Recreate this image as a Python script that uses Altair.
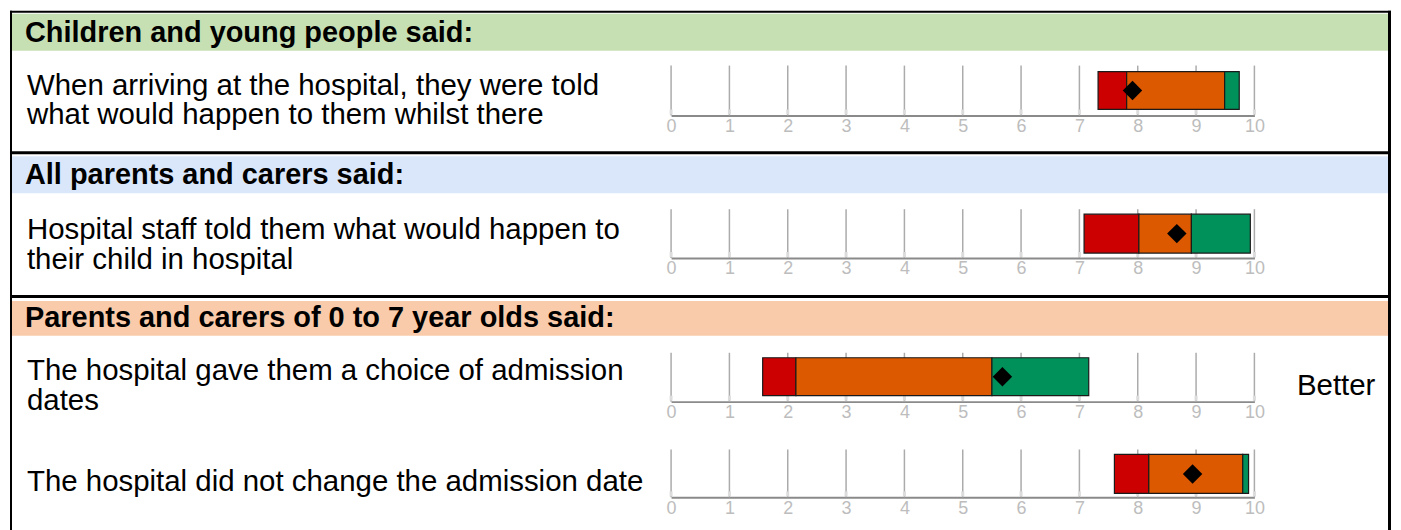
import altair as alt
import pandas as pd

# ---------------- data ----------------
headers = [
    "Children and young people said:",
    "All parents and carers said:",
    "Parents and carers of 0 to 7 year olds said:",
]
header_colors = ["#C6E0B4", "#DAE7FB", "#F9CBAA"]
questions = [
    ["When arriving at the hospital, they were told", "what would happen to them whilst there"],
    ["Hospital staff told them what would happen to", "their child in hospital"],
    ["The hospital gave them a choice of admission", "dates"],
    ["The hospital did not change the admission date"],
]
lower = [7.32, 7.08, 1.57, 7.60]
red_end = [7.81, 8.02, 2.14, 8.19]
orange_end = [9.49, 8.92, 5.50, 9.80]
upper = [9.74, 9.93, 7.16, 9.90]
score = [7.91, 8.67, 5.68, 8.94]
tick_values = list(range(0, 11))
band_names = ["Worse", "About the same", "Better"]
band_colors = ["#CC0000", "#DD5900", "#00915A"]
better_label = "Better"

FONT = "Liberation Sans"
W = 1385
X_RANGE = [663, 1248]
xscale = alt.Scale(domain=[0, 10], range=X_RANGE, zero=False, nice=False)

dummy = pd.DataFrame({"d": [0]})
ticks_df = pd.DataFrame({"t": tick_values})


def segments(i):
    bounds = [lower[i], red_end[i], orange_end[i], upper[i]]
    return pd.DataFrame({
        "start": bounds[:-1],
        "end": bounds[1:],
        "band": band_names,
    })


def panel(h, q, grid_top, bar_top, bar_bot, axis_y, label_y,
          header=None, header_color=None, header_y=(0, 0), header_text_y=0,
          top_border=False, sep=False, better=False):
    layers = []
    deco = alt.Chart(dummy)
    # gridlines (carry the axis)
    layers.append(alt.Chart(ticks_df).mark_rule(color="#ababab", strokeWidth=1.5).encode(
        x=alt.X("t:Q", scale=xscale,
                axis=alt.Axis(values=tick_values, format="d", title=None, grid=False, ticks=False,
                              domainColor="#8a8a8a", domainWidth=2, labelColor="#bdbdbd",
                              labelFont=FONT, labelFontSize=18, labelPadding=2,
                              labelFlush=False, offset=axis_y - h)),
        y=alt.value(grid_top), y2=alt.value(axis_y)))
    layers.append(alt.Chart(ticks_df).mark_rule(color="#dcdcdc", strokeWidth=3).encode(
        x=alt.X("t:Q", scale=xscale), y=alt.value(axis_y - 6), y2=alt.value(axis_y - 1)))
    if header is not None:
        layers.append(deco.mark_rect(color=header_color).encode(
            x=alt.value(2), x2=alt.value(W - 3), y=alt.value(header_y[0]), y2=alt.value(header_y[1])))
        layers.append(deco.mark_text(align="left", baseline="middle", font=FONT, fontSize=29,
                                     fontWeight="bold", color="#000000").encode(
            x=alt.value(15), y=alt.value(header_text_y), text=alt.value(header)))
    # question label (y = centre of first line)
    layers.append(deco.mark_text(align="left", baseline="middle", font=FONT, fontSize=29.5,
                                 lineHeight=30, color="#000000").encode(
        x=alt.value(17), y=alt.value(label_y), text=alt.value(questions[q])))
    # bars
    layers.append(alt.Chart(segments(q)).mark_bar(stroke="#1a1a1a", strokeWidth=1.2).encode(
        x=alt.X("start:Q", scale=xscale),
        x2="end:Q",
        y=alt.value(bar_top), y2=alt.value(bar_bot),
        color=alt.Color("band:N", scale=alt.Scale(domain=band_names, range=band_colors), legend=None),
    ))
    # score diamond
    layers.append(alt.Chart(pd.DataFrame({"s": [score[q]]})).mark_point(
        shape="diamond", filled=True, color="#000000", size=380, opacity=1).encode(
        x=alt.X("s:Q", scale=xscale), y=alt.value((bar_top + bar_bot) / 2)))
    if better:
        layers.append(deco.mark_text(align="center", baseline="middle", font=FONT, fontSize=29.5,
                                     color="#000000").encode(
            x=alt.value(1330), y=alt.value(label_y + 15), text=alt.value(better_label)))
    # borders (overlap slightly so the frame is continuous)
    y_start = 0 if top_border else -2
    layers.append(deco.mark_rule(color="#000000", strokeWidth=2).encode(
        x=alt.value(1), y=alt.value(y_start), y2=alt.value(h + 2)))
    layers.append(deco.mark_rule(color="#000000", strokeWidth=3).encode(
        x=alt.value(W - 1.5), y=alt.value(y_start), y2=alt.value(h + 2)))
    if top_border:
        layers.append(deco.mark_rule(color="#000000", strokeWidth=2).encode(
            x=alt.value(0), x2=alt.value(W), y=alt.value(1)))
    if sep:
        layers.append(deco.mark_rule(color="#000000", strokeWidth=3).encode(
            x=alt.value(0), x2=alt.value(W), y=alt.value(h - 1.5)))
    return alt.layer(*layers).properties(width=W, height=h)


p1 = panel(144, 0, grid_top=55, bar_top=61, bar_bot=99, axis_y=105, label_y=75,
           header=headers[0], header_color=header_colors[0], header_y=(3, 40), header_text_y=22,
           top_border=True, sep=True)
p2 = panel(144, 1, grid_top=55, bar_top=60, bar_bot=99, axis_y=104, label_y=76,
           header=headers[1], header_color=header_colors[1], header_y=(2, 39), header_text_y=21,
           sep=True)
p3 = panel(130, 2, grid_top=55, bar_top=60, bar_bot=98, axis_y=104, label_y=73,
           header=headers[2], header_color=header_colors[2], header_y=(3, 38), header_text_y=20,
           better=True)
p4 = panel(104, 3, grid_top=22, bar_top=27, bar_bot=66, axis_y=70, label_y=55)

chart = alt.vconcat(p1, p2, p3, p4, spacing=0, bounds="flush").properties(
    padding=0, background="#ffffff"
).configure_view(strokeWidth=0)

chart.save("out.html", embed_options={"renderer": "svg", "actions": False})
